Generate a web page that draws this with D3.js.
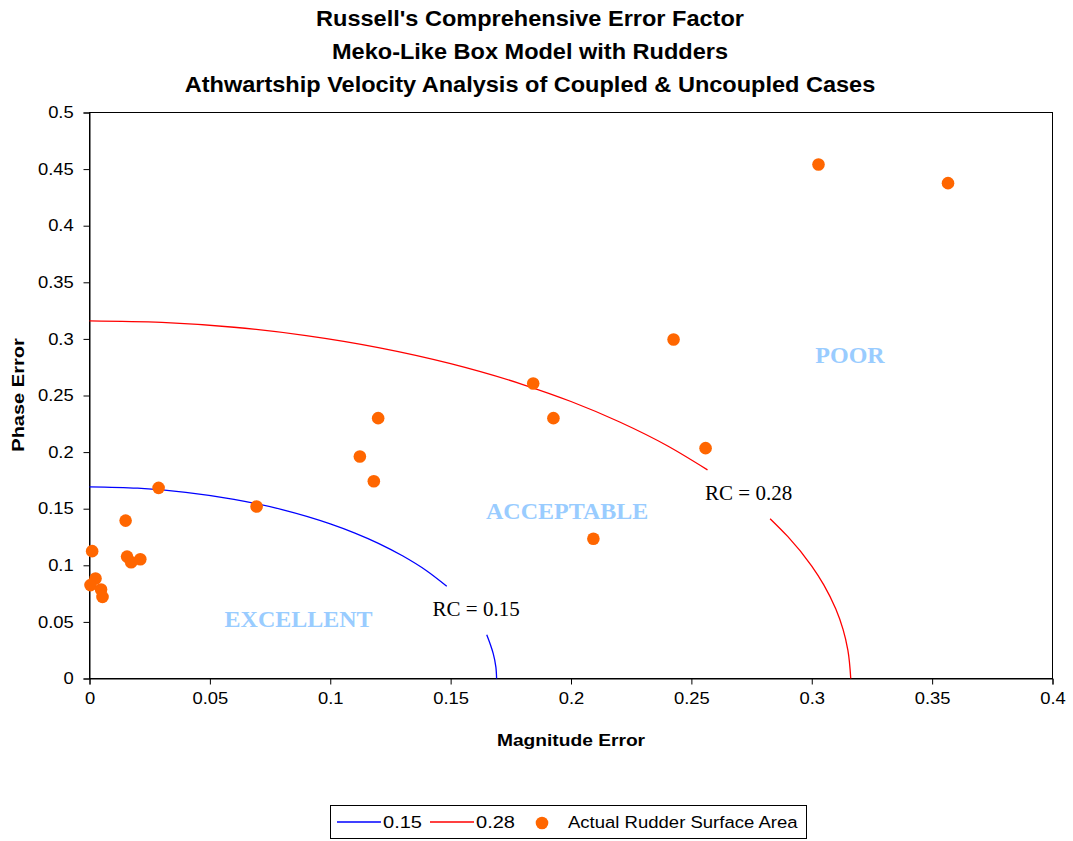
<!DOCTYPE html>
<html><head><meta charset="utf-8">
<script src="https://cdn.jsdelivr.net/npm/d3@7"></script>
<style>
body{margin:0;background:#fff;}
svg{display:block;font-family:Arial,"Liberation Sans",sans-serif;}
</style></head>
<body><svg id="chart" width="1073" height="841"></svg>
<script>
const titleLines = ["Russell's Comprehensive Error Factor","Meko-Like Box Model with Rudders","Athwartship Velocity Analysis of Coupled & Uncoupled Cases"];
const xTicks = [0,0.05,0.1,0.15,0.2,0.25,0.3,0.35,0.4];
const yTicks = [0,0.05,0.1,0.15,0.2,0.25,0.3,0.35,0.4,0.45,0.5];
// RC = 0.15 curve (two pieces, gap for label)
const blueA = [[0,0.1693],[0.02,0.1681],[0.04,0.1645],[0.06,0.1583],[0.08,0.1492],[0.10,0.1366],[0.11,0.1287],[0.12,0.1194],[0.13,0.1084],[0.14,0.0952],[0.1484,0.0815]];
const blueB = [[0.165,0.0386],[0.1665,0.030],[0.1677,0.022],[0.1688,0.010],[0.1691,0]];
// RC = 0.28 curve (two pieces)
const redA = [[0,0.316],[0.03,0.3146],[0.06,0.3103],[0.09,0.3029],[0.12,0.2923],[0.15,0.2781],[0.18,0.2597],[0.20,0.2447],[0.22,0.2268],[0.24,0.2056],[0.2567,0.1843]];
const redB = [[0.2827,0.1412],[0.29,0.1255],[0.30,0.0993],[0.305,0.0827],[0.31,0.0613],[0.313,0.0434],[0.315,0.0251],[0.3162,0]];
// Actual rudder surface area points
const magErr = [0.3028,0.3566,0.2426,0.1843,0.1927,0.2559,0.2093,0.1199,0.1123,0.1181,0.0694,0.0287,0.0150,0.0156,0.0173,0.0211,0.0011,0.0025,0.0004,0.0048,0.0054];
const phaseErr = [0.4541,0.4376,0.2995,0.2606,0.2300,0.2035,0.1234,0.2300,0.1961,0.1743,0.1520,0.1684,0.1395,0.1077,0.1027,0.1053,0.1125,0.0884,0.0825,0.0786,0.0721];
const zoneLabels = [["EXCELLENT",0.0561,0.0455],["ACCEPTABLE",0.1647,0.1413],["POOR",0.3015,0.2783]];
const rcLabels = [["RC = 0.15",0.1425,0.0550],["RC = 0.28",0.2557,0.1581]];

const svg = d3.select("#chart");
const L=89.5, R=1052.5, T=112.5, B=678.5;
const x = d3.scaleLinear().domain([0,0.4]).range([L,R]);
const y = d3.scaleLinear().domain([0,0.5]).range([B,T]);

// titles
svg.append("g").selectAll("text").data(titleLines).join("text")
  .attr("transform",(d,i)=>`translate(530,${26+i*33}) scale(1.07,1)`).attr("text-anchor","middle")
  .attr("font-size",22).attr("font-weight","bold").text(d=>d);

// frame
svg.append("rect").attr("x",L).attr("y",T).attr("width",R-L).attr("height",B-T)
  .attr("fill","none").attr("stroke","#000").attr("stroke-width",1);

const fmt = d=>String(+d.toFixed(2));
const xa = svg.append("g").attr("transform",`translate(0,${B})`)
  .call(d3.axisBottom(x).tickValues(xTicks).tickFormat(fmt).tickSize(6).tickPadding(8));
const ya = svg.append("g").attr("transform",`translate(${L},0)`)
  .call(d3.axisLeft(y).tickValues(yTicks).tickFormat(fmt).tickSize(6).tickPadding(12));
[xa,ya].forEach(a=>{a.select(".domain").attr("stroke","#000");
  a.selectAll("text").attr("font-size",16).attr("font-family","Arial,'Liberation Sans',sans-serif").attr("fill","#000");});
xa.selectAll("text").attr("transform","scale(1.15,1)");
ya.selectAll("text").attr("x",-12).attr("transform","translate(-2,0) scale(1.15,1)");

svg.append("text").attr("transform","translate(571,746) scale(1.2,1)").attr("text-anchor","middle")
  .attr("font-size",16).attr("font-weight","bold").text("Magnitude Error");
svg.append("text").attr("transform","translate(24,395) rotate(-90) scale(1.25,1)").attr("text-anchor","middle")
  .attr("font-size",16).attr("font-weight","bold").text("Phase Error");

const line = d3.line().x(d=>x(d[0])).y(d=>y(d[1])).curve(d3.curveMonotoneX);
const lineY = d3.line().x(d=>x(d[0])).y(d=>y(d[1])).curve(d3.curveMonotoneY);
[[blueA,"#0000ff",line],[blueB,"#0000ff",lineY],[redA,"#ff0000",line],[redB,"#ff0000",lineY]].forEach(([d,c,g])=>{
  svg.append("path").attr("d",g(d)).attr("fill","none").attr("stroke",c).attr("stroke-width",1.3);
});

svg.append("g").selectAll("circle").data(magErr.map((m,i)=>[m,phaseErr[i]])).join("circle")
  .attr("cx",d=>x(d[0])).attr("cy",d=>y(d[1])).attr("r",6.3).attr("fill","#ff6600");

svg.append("g").selectAll("text").data(zoneLabels).join("text")
  .attr("x",d=>x(d[1])).attr("y",d=>y(d[2])).attr("font-family","'Liberation Serif','Times New Roman',serif")
  .attr("font-weight","bold").attr("font-size",24).attr("fill","#99ccff").text(d=>d[0]);
svg.append("g").selectAll("text").data(rcLabels).join("text")
  .attr("x",d=>x(d[1])).attr("y",d=>y(d[2])).attr("font-family","'Liberation Serif','Times New Roman',serif")
  .attr("font-size",21).attr("fill","#000").text(d=>d[0]);

// legend
const lg = svg.append("g");
lg.append("rect").attr("x",330.5).attr("y",805.5).attr("width",476).attr("height",33).attr("fill","#fff").attr("stroke","#000");
lg.append("line").attr("x1",337).attr("x2",381).attr("y1",822).attr("y2",822).attr("stroke","#0000ff").attr("stroke-width",1.3);
lg.append("text").attr("transform","translate(383,828) scale(1.18,1)").attr("font-size",17).text("0.15");
lg.append("line").attr("x1",430).attr("x2",474).attr("y1",822).attr("y2",822).attr("stroke","#ff0000").attr("stroke-width",1.3);
lg.append("text").attr("transform","translate(476,828) scale(1.18,1)").attr("font-size",17).text("0.28");
lg.append("circle").attr("cx",542).attr("cy",823).attr("r",6.3).attr("fill","#ff6600");
lg.append("text").attr("transform","translate(568,828) scale(1.09,1)").attr("font-size",17).text("Actual Rudder Surface Area");
</script></body></html>
